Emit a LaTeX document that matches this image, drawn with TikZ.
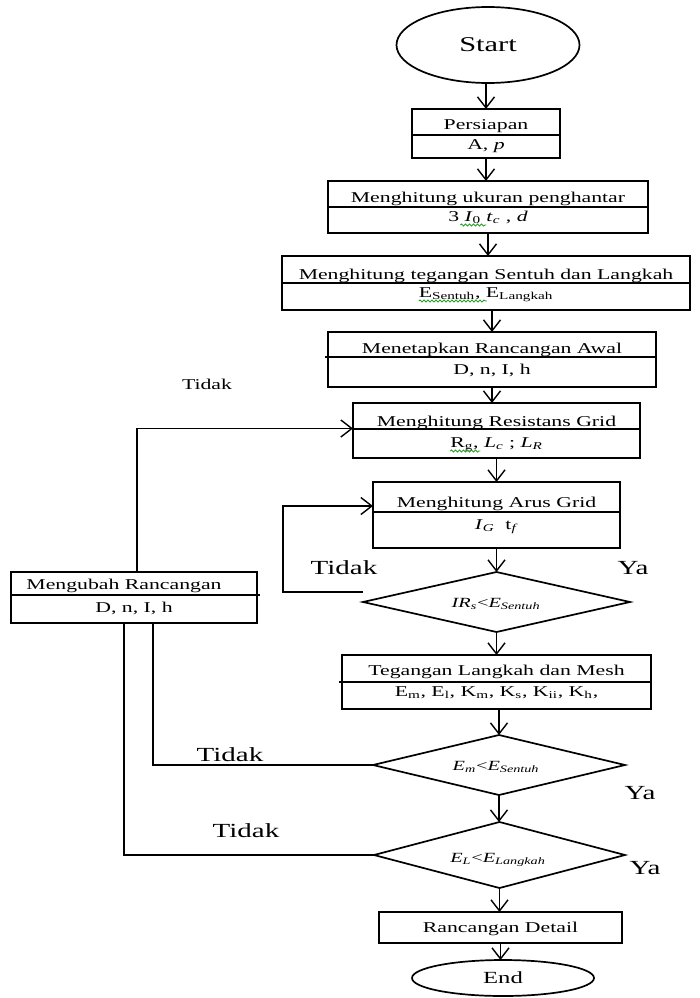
\documentclass[tikz,border=0pt]{standalone}
\usepackage{fontspec}
\setmainfont{Liberation Serif}
\usepackage{graphicx}
\usetikzlibrary{shapes.geometric,arrows.meta,calc,decorations.pathmorphing}
\newcommand{\hs}[1]{\scalebox{1.45}[1]{#1}}
\newcommand{\sub}[1]{\textsubscript{#1}}
\definecolor{squig}{RGB}{40,160,40}
\begin{document}
\begin{tikzpicture}[x=1pt,y=-1pt,
  every node/.style={inner sep=0pt, outer sep=0pt},
  box/.style={draw, line width=1.7pt, rectangle},
  dia/.style={draw, line width=1.7pt, diamond},
  oval/.style={draw, line width=1.7pt, ellipse},
  ln/.style={line width=1.7pt},
  arr/.style={ln, -{Straight Barb[length=11pt,width=17pt,line width=1.4pt]}},
  wavy/.style={squig, line width=0.9pt, decorate, decoration={snake, amplitude=1pt, segment length=4pt}},
  body/.style={font=\fontsize{15}{18}\selectfont, anchor=base},
  big/.style={font=\fontsize{20}{24}\selectfont, anchor=base},
  dtxt/.style={font=\fontsize{14}{17}\selectfont, anchor=base}]

\fill[white] (0,0) rectangle (700,998);
\useasboundingbox (0,0) rectangle (700,998);

% terminals
\node[oval, minimum width=183, minimum height=76, font=\fontsize{21}{25}\selectfont] (S) at (488,45) {\hs{Start}};
\node[oval, minimum width=182, minimum height=36, font=\fontsize{17}{20}\selectfont] (E) at (503,978) {\hs{End}};

% boxes
\node[box, minimum width=148, minimum height=49] (B1) at (486,133.5) {};
\node[box, minimum width=320, minimum height=52] (B2) at (488,207) {};
\node[box, minimum width=408, minimum height=54] (B3) at (486,283) {};
\node[box, minimum width=328, minimum height=55] (B4) at (492,359.5) {};
\node[box, minimum width=287, minimum height=55] (B5) at (496.5,430.5) {};
\node[box, minimum width=247, minimum height=66] (B6) at (496.5,515) {};
\node[box, minimum width=309, minimum height=54] (B7) at (496.5,682) {};
\node[box, minimum width=246, minimum height=51] (M) at (134,597.5) {};
\node[box, minimum width=243, minimum height=31] (RD) at (500.5,927.5) {};

% dividers
\draw[ln] (B1.west |- 0,135) -- (B1.east |- 0,135);
\draw[ln] (B2.west |- 0,207) -- (B2.east |- 0,207);
\draw[ln] (B3.west |- 0,283) -- (B3.east |- 0,283);
\draw[ln] ($(B4.west |- 0,357)+(-3,0)$) -- (B4.east |- 0,357);
\draw[ln] (B5.west |- 0,429) -- (B5.east |- 0,429);
\draw[ln] (B6.west |- 0,512) -- (B6.east |- 0,512);
\draw[ln] ($(B7.west |- 0,682)+(-3,0)$) -- (B7.east |- 0,682);
\draw[ln] (M.west |- 0,595) -- ($(M.east |- 0,595)+(3,0)$);

% diamonds
\node[dia, minimum width=267, minimum height=60] (D1) at (496.5,602) {};
\node[dia, minimum width=252, minimum height=60] (D2) at (499,765) {};
\node[dia, minimum width=251, minimum height=66] (D3) at (499.5,855) {};

% box texts
\node[body] (B1a) at (486,129) {\hs{Persiapan}};
\node[body] (B1b) at (486,149) {\hs{A, \textit{p}}};
\node[body] (B2a) at (488,202) {\hs{Menghitung ukuran penghantar}};
\node[body] (B2b) at (488,221) {\hs{3 \textit{I}\sub{0} \textit{t}\sub{\textit{c}} , \textit{d}}};
\node[body] (B3a) at (486,279) {\hs{Menghitung tegangan Sentuh dan Langkah}};
\node[body] (B3b) at (486,297) {\hs{E\sub{Sentuh}, E\sub{Langkah}}};
\node[body] (B4a) at (492,353) {\hs{Menetapkan Rancangan Awal}};
\node[body] (B4b) at (492,374) {\hs{D, n, I, h}};
\node[body] (B5a) at (496.5,426) {\hs{Menghitung Resistans Grid}};
\node[body] (B5b) at (496.5,447) {\hs{R\sub{g}, \textit{L}\sub{\textit{c}} ; \textit{L}\sub{\textit{R}}}};
\node[body] (B6a) at (496.5,507) {\hs{Menghitung Arus Grid}};
\node[body] (B6b) at (496.5,529) {\hs{\textit{I}\sub{\textit{G}}\ \ t\sub{\textit{f}}}};
\node[body] (B7a) at (496.5,675) {\hs{Tegangan Langkah dan Mesh}};
\node[body] (B7b) at (496.5,696) {\hs{E\sub{m}, E\sub{l}, K\sub{m}, K\sub{s}, K\sub{ii}, K\sub{h},}};
\node[body] (Ma) at (124,589) {\hs{Mengubah Rancangan}};
\node[body] (Mb) at (134,612) {\hs{D, n, I, h}};
\node[body] (RDa) at (500.5,932) {\hs{Rancangan Detail}};

% spell-check squiggles
\draw[wavy] ($(B2b.base west)+(12,4)$) -- ++(26,0);
\draw[wavy] ($(B3b.base west)+(0,4)$) -- ++(68,0);
\draw[wavy] ($(B5b.base west)+(0,4)$) -- ++(30,0);

% diamond texts
\node[dtxt] (D1a) at (496,607) {\hs{\textit{IR}\sub{\textit{s}}<\textit{E}\sub{\textit{Sentuh}}}};
\node[dtxt] (D2a) at (496,770) {\hs{\textit{E}\sub{\textit{m}}<\textit{E}\sub{\textit{Sentuh}}}};
\node[dtxt] (D3a) at (498,862) {\hs{\textit{E}\sub{\textit{L}}<\textit{E}\sub{\textit{Langkah}}}};

% labels
\node[body] (t0) at (207,389) {\hs{Tidak}};
\node[big] (t1) at (344,574.5) {\hs{Tidak}};
\node[big] (y1) at (633,574.5) {\hs{Ya}};
\node[big] (t2) at (230,761.5) {\hs{Tidak}};
\node[big] (y2) at (640,799.5) {\hs{Ya}};
\node[big] (t3) at (246,837.5) {\hs{Tidak}};
\node[big] (y3) at (645,874.5) {\hs{Ya}};

% main flow
\draw[arr] (B1 |- S.south) -- (B1.north);
\draw[arr] (B1) -- (B1 |- B2.north);
\draw[arr] (B2) -- (B2 |- B3.north);
\draw[arr] (B4 |- B3.south) -- (B4.north);
\draw[arr] (B4) -- (B4 |- B5.north);
\draw[arr] (B5) -- (B5 |- B6.north);
\draw[arr] (B6) -- (B6 |- D1.north);
\draw[arr] (D1) -- (D1 |- B7.north);
\draw[arr] (D2 |- B7.south) -- (D2.north);
\draw[arr] (D2) -- (D2 |- D3.north);
\draw[arr] (D3) -- (D3 |- RD.north);
\draw[arr] (RD) -- (RD |- E.north);

% feedback loops
\draw[arr] ($(M.north)+(3,0)$) |- ($(B5.west)+(0,-2)$);
\coordinate (d1a) at ($(D1.west)+(0,-10)$);
\draw[arr] (d1a) -- ++(-80,0) |- ($(B6.west)+(0,-9)$);
\draw[ln] ($(M.south)+(19,0)$) |- (D2.west);
\draw[ln] ($(M.south)+(-10,0)$) |- (D3.west);
\end{tikzpicture}
\end{document}
